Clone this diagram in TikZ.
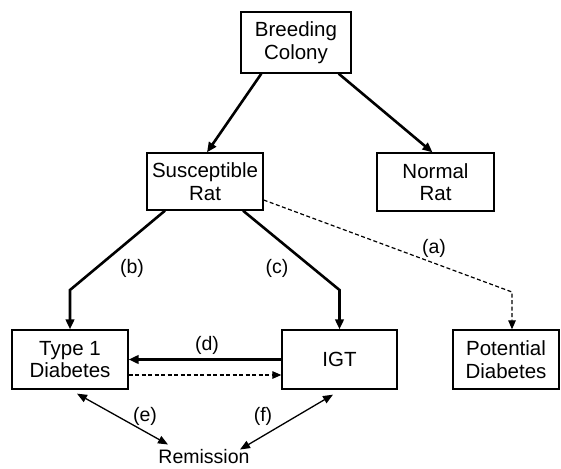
\documentclass[tikz,border=0pt]{standalone}
\usepackage{fontspec}
\setmainfont{Liberation Sans}
\usetikzlibrary{arrows.meta}
\begin{document}
\begin{tikzpicture}[x=1pt,y=-1pt,
  box/.style={draw,line width=1.3pt,minimum width=#1,inner sep=0pt,align=center,
    font=\fontsize{20.5pt}{22.5pt}\selectfont},
  lbl/.style={font=\fontsize{19.5pt}{22pt}\selectfont,inner sep=0pt},
  tip/.style={-{Triangle[length=10pt,width=8.5pt]}},
  heavy/.style={tip,line width=2.6pt},
  thin/.style={{Triangle[length=10pt,width=8pt]}-{Triangle[length=10pt,width=8pt]},line width=1.3pt},
  dashline/.style={-{Triangle[length=9pt,width=7.5pt]},line width=1.2pt,dash pattern=on 4pt off 2.5pt}]
\useasboundingbox (0,0) rectangle (561,468);
\node[box=110pt,minimum height=61pt] (breed) at (296,42.5) {Breeding\\Colony};
\node[box=116pt,minimum height=57pt] (sus) at (205,181.5) {Susceptible\\Rat};
\node[box=117pt,minimum height=58pt] (normal) at (435.5,182) {Normal\\Rat};
\node[box=116pt,minimum height=59pt] (t1d) at (70,359.5) {Type 1\\Diabetes};
\node[box=115pt,minimum height=59pt] (igt) at (339.5,359.5) {IGT};
\node[box=106pt,minimum height=59pt] (pot) at (506,359.5) {Potential\\Diabetes};
\node[lbl,anchor=base] (rem) at (204,463.5) {Remission};
\coordinate (cb) at (70,290);
\coordinate (cc) at (339.5,290);
\coordinate (ca) at (512,292);
\coordinate (re) at ([shift={(-36pt,19pt)}]rem.base);
\coordinate (rf) at ([shift={(36pt,14pt)}]rem.base);
\draw[heavy] ([xshift=21pt]breed.south west) -- ([xshift=2pt]sus.north);
\draw[heavy] ([xshift=-13pt]breed.south east) -- ([xshift=-3pt]normal.north);
\draw[heavy] ([xshift=-40pt]sus.south) -- (cb) -- (t1d.north);
\draw[heavy] ([xshift=38pt]sus.south) -- (cc) -- (igt.north);
\draw[dashline] ([yshift=-18.5pt]sus.east) -- (ca) -- ([xshift=6pt]pot.north);
\draw[heavy] (igt.west) -- (t1d.east);
\draw[dashline] ([yshift=-15.5pt]t1d.east) -- ([yshift=-15.5pt]igt.west);
\draw[thin] ([shift={(7pt,-4pt)}]t1d.south) -- (re);
\draw[thin] ([shift={(-6.5pt,-5pt)}]igt.south) -- (rf);
\node[lbl] (lb) at (132,268) {(b)};
\node[lbl] (lc) at (277,268) {(c)};
\node[lbl] (la) at (434,248) {(a)};
\node[lbl] (ld) at (207,345) {(d)};
\node[lbl] (le) at (145,416) {(e)};
\node[lbl] (lf) at (263,416) {(f)};
\end{tikzpicture}
\end{document}
